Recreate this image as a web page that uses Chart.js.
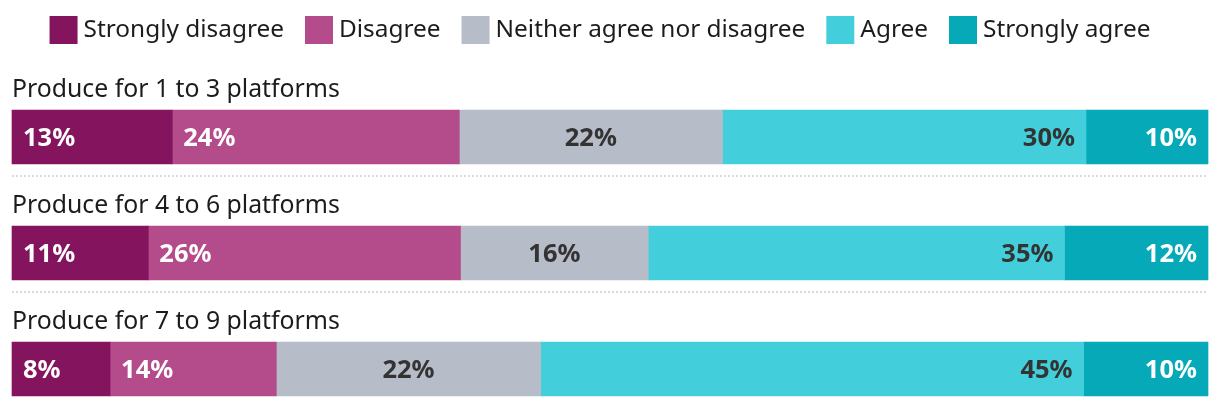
<!DOCTYPE html>
<html>
<head>
<meta charset="utf-8">
<script src="https://cdn.jsdelivr.net/npm/chart.js@4/dist/chart.umd.min.js"></script>
<style>
  html, body { margin: 0; padding: 0; background: #fff; }
  #wrap { width: 1220px; height: 406px; }
</style>
</head>
<body>
<div id="wrap"><canvas id="likertChart" width="1220" height="406"></canvas></div>
<script>
// categories and response levels
const categories = ['Produce for 1 to 3 platforms', 'Produce for 4 to 6 platforms', 'Produce for 7 to 9 platforms'];
const responses = ['Strongly disagree', 'Disagree', 'Neither agree nor disagree', 'Agree', 'Strongly agree'];

// share of respondents (%), one value per category
const stronglyDisagree = [13.4, 11.4, 8.2];
const disagree = [24.0, 26.1, 13.9];
const neither = [22.0, 15.7, 22.1];
const agree = [30.4, 34.8, 45.4];
const stronglyAgree = [10.2, 12.0, 10.4];

const seriesValues = [stronglyDisagree, disagree, neither, agree, stronglyAgree];
const colors = ['#83145d', '#b44b8a', '#b6bcc8', '#42ceda', '#05a9b7'];
const labelColors = ['#ffffff', '#ffffff', '#333333', '#333333', '#ffffff'];
const labelAlign = ['left', 'left', 'center', 'right', 'right'];

const FONT = '"Noto Sans", "Open Sans", sans-serif';
const TEXT = '#1c1c1c';

// legend drawn above the bars, centred
const legendPlugin = {
  id: 'topLegend',
  afterDraw(chart) {
    const c = chart.ctx;
    c.save();
    c.font = '24.4px ' + FONT;
    const box = 28, gap = 6, spacing = 21;
    const items = chart.data.datasets.map(ds => ({
      label: ds.label, color: ds.backgroundColor, w: c.measureText(ds.label).width
    }));
    const total = items.reduce((s, it) => s + box + gap + it.w, 0) + spacing * (items.length - 1);
    let x = 600 - total / 2;
    items.forEach(it => {
      c.fillStyle = it.color;
      c.fillRect(x, 16, box, box);
      c.fillStyle = TEXT;
      c.textBaseline = 'alphabetic';
      c.textAlign = 'left';
      c.fillText(it.label, x + box + gap, 37);
      x += box + gap + it.w + spacing;
    });
    c.restore();
  }
};

// category titles, separators and value labels
const rowPlugin = {
  id: 'rowDecor',
  afterDatasetsDraw(chart) {
    const c = chart.ctx;
    const area = chart.chartArea;
    const first = chart.getDatasetMeta(0).data;
    c.save();
    first.forEach((bar, i) => {
      const top = bar.y - bar.height / 2;
      const bottom = bar.y + bar.height / 2;
      c.font = '24.8px ' + FONT;
      c.fillStyle = TEXT;
      c.textAlign = 'left';
      c.textBaseline = 'alphabetic';
      c.fillText(chart.data.labels[i], area.left, top - 13);
      if (i < first.length - 1) {
        c.strokeStyle = '#dadada';
        c.lineWidth = 2;
        c.setLineDash([2, 2]);
        c.beginPath();
        c.moveTo(area.left, bottom + 12);
        c.lineTo(area.right, bottom + 12);
        c.stroke();
        c.setLineDash([]);
      }
    });

    c.font = 'bold 25.5px ' + FONT;
    c.textBaseline = 'alphabetic';
    chart.data.datasets.forEach((ds, d) => {
      chart.getDatasetMeta(d).data.forEach((bar, i) => {
        const start = Math.min(bar.base, bar.x);
        const end = Math.max(bar.base, bar.x);
        const txt = Math.round(ds.data[i]) + '%';
        c.fillStyle = labelColors[d];
        c.textAlign = labelAlign[d];
        let tx = (start + end) / 2;
        if (labelAlign[d] === 'left') tx = start + 11;
        if (labelAlign[d] === 'right') tx = end - 11;
        c.fillText(txt, tx, bar.y + 8.5);
      });
    });
    c.restore();
  }
};

const ctx = document.getElementById('likertChart').getContext('2d');
const likertChart = new Chart(ctx, {
  type: 'bar',
  data: {
    labels: categories,
    datasets: responses.map((name, k) => ({
      label: name,
      data: seriesValues[k],
      backgroundColor: colors[k],
      borderWidth: 0,
      barThickness: 54,
      clip: false
    }))
  },
  options: {
    indexAxis: 'y',
    responsive: false,
    animation: false,
    layout: { padding: { left: 12, right: 12, top: 137, bottom: 37 } },
    plugins: {
      legend: { display: false },
      tooltip: { enabled: false }
    },
    scales: {
      x: { stacked: true, min: 0, max: 100, display: false },
      y: { stacked: true, offset: false, display: false }
    }
  },
  plugins: [legendPlugin, rowPlugin]
});
</script>
</body>
</html>
